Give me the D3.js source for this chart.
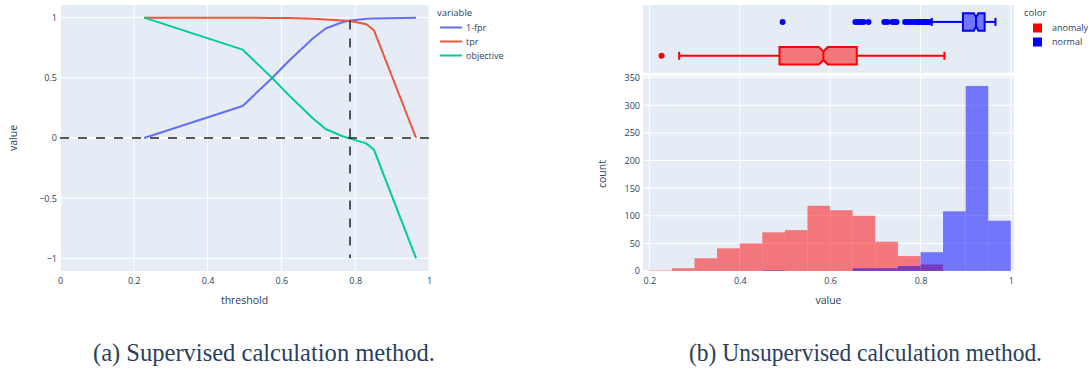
<!DOCTYPE html>
<html>
<head>
<meta charset="utf-8">
<script src="https://cdn.jsdelivr.net/npm/d3@7"></script>
<style>
  body { margin: 0; background: #fff; }
  text { font-family: "Open Sans", sans-serif; fill: #2a3f5f; }
</style>
</head>
<body>
<script>
// left chart: threshold sweep
var thresholds  = [0.228, 0.495, 0.572, 0.62, 0.685, 0.72, 0.765, 0.787, 0.83, 0.851, 0.965];
var oneMinusFpr = [0, 0.266, 0.49, 0.64, 0.826, 0.91, 0.962, 0.977, 0.99, 0.993, 1.0];
var tpr         = [1, 1, 0.998, 0.996, 0.99, 0.985, 0.977, 0.972, 0.945, 0.895, 0];
var objective   = [1, 0.734, 0.508, 0.356, 0.164, 0.075, 0.015, -0.005, -0.045, -0.098, -1];
var bestThreshold = 0.786;
var seriesNames = ["1-fpr", "tpr", "objective"];
var seriesColors = ["#636efa", "#EF553B", "#00cc96"];
var leftXTicks = [0, 0.2, 0.4, 0.6, 0.8, 1];
var leftYTicks = [-1, -0.5, 0, 0.5, 1];

// right chart: histogram + marginal box
var binStarts = [0.2, 0.25, 0.3, 0.35, 0.4, 0.45, 0.5, 0.55, 0.6, 0.65, 0.7, 0.75, 0.8, 0.85, 0.9, 0.95];
var binWidth = 0.05;
var anomalyCounts = [1, 5, 23, 41, 50, 70, 74, 118, 110, 100, 53, 27, 12, 0, 0, 0];
var normalCounts  = [0, 0, 0, 0, 0, 1, 0, 0, 0, 5, 5, 9, 34, 108, 335, 91];
var groups = ["normal", "anomaly"];
var groupColors = {anomaly: "red", normal: "blue"};
var boxStats = {
  anomaly: {lower: 0.266, q1: 0.488, median: 0.585, q3: 0.659, upper: 0.853, notch: 0.01},
  normal:  {lower: 0.825, q1: 0.894, median: 0.923, q3: 0.942, upper: 0.966, notch: 0.005}
};
var outliers = {
  anomaly: [0.227],
  normal: [0.495, 0.656, 0.662, 0.668, 0.674, 0.685, 0.72, 0.727, 0.738, 0.742, 0.747,
           0.766, 0.773, 0.779, 0.786, 0.791, 0.795, 0.799, 0.802, 0.806, 0.81, 0.813, 0.817, 0.821]
};
var rightXTicks = [0.2, 0.4, 0.6, 0.8, 1];
var countTicks = [0, 50, 100, 150, 200, 250, 300, 350];
var legendGroups = ["anomaly", "normal"];

var captions = ["(a) Supervised calculation method.", "(b) Unsupervised calculation method."];

var bg = "#E5ECF6";
var svg = d3.select("body").append("svg").attr("width", 1091).attr("height", 376);

var fmt = function(d){ return d3.format("")(d).replace("-", "\u2212"); };

// ---------------- left panel ----------------
var xL = d3.scaleLinear().domain([0, 1]).range([60, 429]);
var yL = d3.scaleLinear().domain([-1.105, 1.105]).range([271, 5]);

svg.append("rect").attr("x", 60).attr("y", 5).attr("width", 369).attr("height", 266).attr("fill", bg);

var gl = svg.append("g");
gl.selectAll(".vg").data(leftXTicks).enter().append("line")
  .attr("x1", function(d){ return xL(d); }).attr("x2", function(d){ return xL(d); })
  .attr("y1", 5).attr("y2", 271)
  .attr("stroke", "#fff").attr("stroke-width", function(d){ return d == 0 ? 2 : 1; });
gl.selectAll(".hg").data(leftYTicks).enter().append("line")
  .attr("x1", 60).attr("x2", 429)
  .attr("y1", function(d){ return yL(d); }).attr("y2", function(d){ return yL(d); })
  .attr("stroke", "#fff").attr("stroke-width", function(d){ return d == 0 ? 2 : 1; });

var xAxisL = svg.append("g").attr("transform", "translate(0,275)")
  .call(d3.axisBottom(xL).tickValues(leftXTicks).tickSize(0).tickFormat(fmt));
var yAxisL = svg.append("g").attr("transform", "translate(57,0)")
  .call(d3.axisLeft(yL).tickValues(leftYTicks).tickSize(0).tickFormat(fmt));
[xAxisL, yAxisL].forEach(function(a){
  a.select(".domain").remove();
  a.selectAll("text").style("font-family", "Open Sans").style("font-size", "9px").attr("fill", "#506784");
});
yAxisL.selectAll("text").attr("x", 0);

var seriesData = [oneMinusFpr, tpr, objective];
var lineGen = function(vals){
  return d3.line().x(function(d, i){ return xL(thresholds[i]); }).y(function(d){ return yL(d); })(vals);
};
seriesData.forEach(function(vals, k){
  svg.append("path").attr("d", lineGen(vals)).attr("fill", "none")
    .attr("stroke", seriesColors[k]).attr("stroke-width", 2).attr("stroke-linejoin", "round");
});

// dashed reference lines
svg.append("line").attr("x1", xL(0)).attr("x2", xL(1)).attr("y1", yL(0)).attr("y2", yL(0))
  .attr("stroke", "#222").attr("stroke-width", 1.5).attr("stroke-dasharray", "9,9");
svg.append("line").attr("x1", xL(bestThreshold)).attr("x2", xL(bestThreshold))
  .attr("y1", yL(0.977)).attr("y2", yL(-1))
  .attr("stroke", "#222").attr("stroke-width", 1.5).attr("stroke-dasharray", "9,9");

svg.append("text").text("threshold").attr("x", 244.5).attr("y", 304)
  .attr("text-anchor", "middle").style("font-size", "10.5px").attr("fill", "#506784");
svg.append("text").text("value").attr("transform", "translate(17,138) rotate(-90)")
  .attr("text-anchor", "middle").style("font-size", "10.5px").attr("fill", "#506784");

// legend left
svg.append("text").text("variable").attr("x", 437).attr("y", 16).style("font-size", "9.5px").attr("fill", "#506784");
seriesNames.forEach(function(n, i){
  var yy = 27.5 + i * 14;
  svg.append("line").attr("x1", 440).attr("x2", 462).attr("y1", yy).attr("y2", yy)
    .attr("stroke", seriesColors[i]).attr("stroke-width", 2);
  svg.append("text").text(n).attr("x", 466).attr("y", yy + 3.3).style("font-size", "9px").attr("fill", "#506784");
});

// ---------------- right panel ----------------
var xR = d3.scaleLinear().domain([0.186, 1.007]).range([643, 1014]);
var yH = d3.scaleLinear().domain([0, 353]).range([271, 76]);
var yB = d3.scaleBand().domain(groups).range([5, 72.7]);

svg.append("rect").attr("x", 643).attr("y", 5).attr("width", 371).attr("height", 67.7).attr("fill", bg);
svg.append("rect").attr("x", 643).attr("y", 76).attr("width", 371).attr("height", 195).attr("fill", bg);

var gr = svg.append("g");
gr.selectAll(".vb").data(rightXTicks).enter().append("line")
  .attr("x1", function(d){ return xR(d); }).attr("x2", function(d){ return xR(d); })
  .attr("y1", 5).attr("y2", 72.7).attr("stroke", "#fff").attr("stroke-width", 1);
gr.selectAll(".vh").data(rightXTicks).enter().append("line")
  .attr("x1", function(d){ return xR(d); }).attr("x2", function(d){ return xR(d); })
  .attr("y1", 76).attr("y2", 271).attr("stroke", "#fff").attr("stroke-width", 1);
gr.selectAll(".hh").data(countTicks).enter().append("line")
  .attr("x1", 643).attr("x2", 1014)
  .attr("y1", function(d){ return yH(d); }).attr("y2", function(d){ return yH(d); })
  .attr("stroke", "#fff").attr("stroke-width", function(d){ return d == 0 ? 2 : 1; });

var xAxisR = svg.append("g").attr("transform", "translate(0,275)")
  .call(d3.axisBottom(xR).tickValues(rightXTicks).tickSize(0).tickFormat(fmt));
var yAxisR = svg.append("g").attr("transform", "translate(640,0)")
  .call(d3.axisLeft(yH).tickValues(countTicks).tickSize(0).tickFormat(fmt));
[xAxisR, yAxisR].forEach(function(a){
  a.select(".domain").remove();
  a.selectAll("text").style("font-family", "Open Sans").style("font-size", "9px").attr("fill", "#506784");
});
yAxisR.selectAll("text").attr("x", 0);

// histogram bars (overlay, opacity 0.5)
var histData = [];
binStarts.forEach(function(b, i){
  histData.push({g: "anomaly", x0: b, x1: b + binWidth, n: anomalyCounts[i]});
});
binStarts.forEach(function(b, i){
  histData.push({g: "normal", x0: b, x1: b + binWidth, n: normalCounts[i]});
});
svg.append("g").selectAll("rect").data(histData.filter(function(d){ return d.n > 0; })).enter().append("rect")
  .attr("x", function(d){ return xR(d.x0); })
  .attr("width", function(d){ return xR(d.x1) - xR(d.x0); })
  .attr("y", function(d){ return yH(d.n); })
  .attr("height", function(d){ return yH(0) - yH(d.n); })
  .attr("fill", function(d){ return groupColors[d.g]; })
  .attr("fill-opacity", 0.5);

// box plots
groups.forEach(function(g){
  var s = boxStats[g];
  var c = yB(g) + yB.bandwidth() / 2;
  var h = 8.8, nd = 4.4, cap = 4;
  var col = groupColors[g];
  var p = d3.path();
  p.moveTo(xR(s.q1), c - h);
  p.lineTo(xR(s.median - s.notch), c - h);
  p.lineTo(xR(s.median), c - h + nd);
  p.lineTo(xR(s.median + s.notch), c - h);
  p.lineTo(xR(s.q3), c - h);
  p.lineTo(xR(s.q3), c + h);
  p.lineTo(xR(s.median + s.notch), c + h);
  p.lineTo(xR(s.median), c + h - nd);
  p.lineTo(xR(s.median - s.notch), c + h);
  p.lineTo(xR(s.q1), c + h);
  p.closePath();
  svg.append("path").attr("d", p.toString()).attr("fill", col).attr("fill-opacity", 0.5)
    .attr("stroke", col).attr("stroke-width", 2).attr("stroke-linejoin", "miter");
  svg.append("line").attr("x1", xR(s.median)).attr("x2", xR(s.median))
    .attr("y1", c - h + nd).attr("y2", c + h - nd).attr("stroke", col).attr("stroke-width", 2);
  // whiskers
  [[s.lower, s.q1], [s.q3, s.upper]].forEach(function(w){
    svg.append("line").attr("x1", xR(w[0])).attr("x2", xR(w[1])).attr("y1", c).attr("y2", c)
      .attr("stroke", col).attr("stroke-width", 2);
  });
  [s.lower, s.upper].forEach(function(w){
    svg.append("line").attr("x1", xR(w)).attr("x2", xR(w)).attr("y1", c - cap).attr("y2", c + cap)
      .attr("stroke", col).attr("stroke-width", 2);
  });
  svg.append("g").selectAll("circle").data(outliers[g]).enter().append("circle")
    .attr("cx", function(d){ return xR(d); }).attr("cy", c).attr("r", 3).attr("fill", col);
});

svg.append("text").text("value").attr("x", 828.5).attr("y", 304)
  .attr("text-anchor", "middle").style("font-size", "10.5px").attr("fill", "#506784");
svg.append("text").text("count").attr("transform", "translate(606,174) rotate(-90)")
  .attr("text-anchor", "middle").style("font-size", "10.5px").attr("fill", "#506784");

// legend right
svg.append("text").text("color").attr("x", 1024).attr("y", 16).style("font-size", "9.5px").attr("fill", "#506784");
legendGroups.forEach(function(g, i){
  var yy = 28 + i * 14;
  svg.append("rect").attr("x", 1033).attr("y", yy - 4.5).attr("width", 9).attr("height", 9)
    .attr("fill", groupColors[g]);
  svg.append("text").text(g).attr("x", 1052).attr("y", yy + 3.3).style("font-size", "9px").attr("fill", "#506784");
});

// captions (narrow Times-like, stretched to the reference widths)
var capX = [93, 689], capW = [342, 353];
captions.forEach(function(t, i){
  svg.append("text").text(t).attr("x", capX[i]).attr("y", 361)
    .attr("textLength", capW[i]).attr("lengthAdjust", "spacingAndGlyphs")
    .style("font-family", "Liberation Serif")
    .style("font-size", "25px").attr("fill", "#000");
});
</script>
</body>
</html>
